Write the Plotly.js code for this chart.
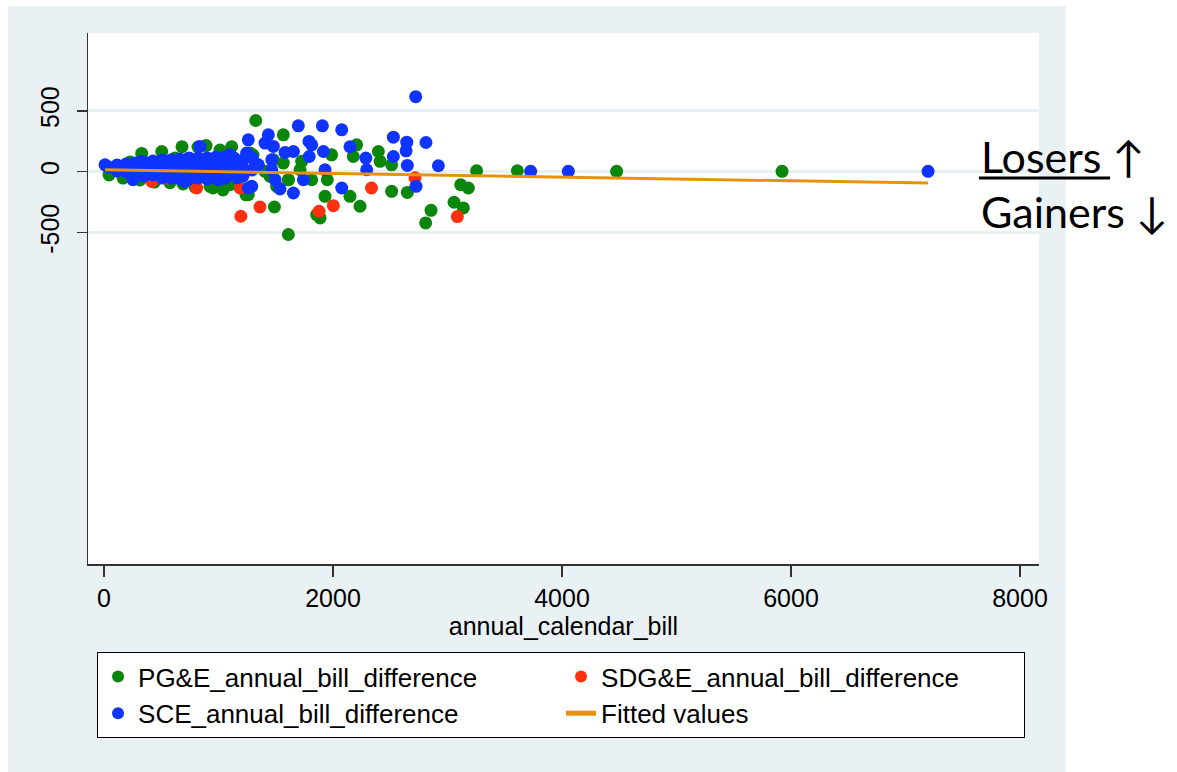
<!DOCTYPE html>
<html>
<head>
<meta charset="utf-8">
<script src="https://cdn.plot.ly/plotly-3.0.1.min.js"></script>
<style>html,body{margin:0;padding:0;background:#fff;}#chart{width:1177px;height:772px;}</style>
</head>
<body>
<div id="chart"></div>
<script>
// ---- data ----
var pgeX = [44,227,329,504,620,681,821,891,1013,1115,1301,166,314,440,576,690,795,926,952,1039,1100,1127,1240,
  1275,1406,1450,1479,1508,1566,1610,1712,1726,1260,
  1325,1566,2206,2396,2177,2411,2512,1988,1814,1950,1610,1488,1930,2148,2236,2512,2649,1857,1887,1610,
  3254,3610,3115,3182,3057,3138,2856,2809,4477,5922];
var pgeY = [-27,80,150,166,112,205,203,215,178,205,137,-52,-68,-85,-90,-101,-126,-120,-134,-150,-107,-93,-190,
  153,3,-38,98,-120,71,-66,16,85,-189,
  421,303,221,166,125,85,57,139,-66,-66,-66,-290,-202,-202,-284,-161,-170,-352,-380,-516,
  8,8,-107,-134,-251,-298,-317,-421,3,3];

var sdgeX = [416,547,809,1188,1195,1362,1878,2003,2336,2716,3086];
var sdgeY = [-80,-52,-134,-134,-366,-290,-325,-279,-134,-50,-369];

var sceX = [35,114,114,192,192,271,271,271,349,349,349,428,428,428,507,507,507,507,585,585,585,585,
  664,664,664,664,742,742,742,742,821,821,821,821,900,900,900,900,978,978,978,978,1057,1057,1057,1057,
  1135,1135,1135,1214,1214,1214,1293,1293,
  2722,1260,1435,1697,1907,2076,2527,2644,2812,2638,2527,2287,2148,1916,1790,1814,1792,1654,1581,1406,1479,
  1246,1348,1465,1465,1930,2294,2649,2920,3726,4055,7197,2725,2076,1741,1494,1537,1654,1290,1188,1246,1203,
  998,882,707,253,9,111,838,1042,1100,1159,1260,329,1163];
var sceY = [39,55,6,63,-2,71,14,-35,80,22,-35,88,30,-27,96,39,-19,-52,96,47,-2,-52,
  104,55,-2,-60,113,55,-2,-60,113,63,6,-52,113,55,-2,-60,121,63,6,-44,121,63,6,-52,
  113,55,-2,96,30,-35,113,14,
  617,262,303,377,377,344,284,243,240,172,125,112,205,166,249,221,125,166,158,235,208,
  139,57,98,16,16,16,52,49,3,3,3,-120,-134,-66,-66,-142,-175,-120,43,153,-38,
  -66,-38,-80,-66,57,30,208,98,139,71,-134,85,-50];

var fitX = [9, 7197];
var fitY = [16, -93];

var xTicks = [0, 2000, 4000, 6000, 8000];
var yTicks = [-500, 0, 500];

var seriesNames = ['PG&E_annual_bill_difference', 'SDG&E_annual_bill_difference',
                   'SCE_annual_bill_difference', 'Fitted values'];

// ---- chart ----
var tickFont = {family: 'Liberation Sans, Arial, sans-serif', size: 25, color: '#000'};
var legendFont = {family: 'Liberation Sans, Arial, sans-serif', size: 26, color: '#000'};

var traces = [
  {type: 'scatter', mode: 'markers', x: pgeX, y: pgeY, name: seriesNames[0],
   marker: {color: '#0a860a', size: 13, line: {width: 0}}},
  {type: 'scatter', mode: 'markers', x: sdgeX, y: sdgeY, name: seriesNames[1],
   marker: {color: '#ff3010', size: 13, line: {width: 0}}},
  {type: 'scatter', mode: 'markers', x: sceX, y: sceY, name: seriesNames[2],
   marker: {color: '#1034ff', size: 13, line: {width: 0}}},
  {type: 'scatter', mode: 'lines', x: fitX, y: fitY, name: seriesNames[3],
   line: {color: '#e8920c', width: 3}}
];

var layout = {
  width: 1177, height: 772,
  margin: {l: 88, r: 138, t: 33, b: 208},
  paper_bgcolor: '#eaf1f4',
  plot_bgcolor: '#ffffff',
  showlegend: true,
  xaxis: {
    range: [-140, 8166], tickvals: xTicks, ticktext: xTicks.map(String),
    ticks: 'outside', ticklen: 11, tickwidth: 1.5, tickcolor: '#333',
    showline: true, linecolor: '#333', linewidth: 1.5,
    showgrid: false, zeroline: false, tickfont: tickFont,
    title: {text: 'annual_calendar_bill', font: tickFont, standoff: 2}
  },
  yaxis: {
    range: [-3224, 1140], tickvals: yTicks, ticktext: yTicks.map(String),
    tickangle: -90, ticks: 'outside', ticklen: 10, tickwidth: 1.5, tickcolor: '#333',
    showline: true, linecolor: '#333', linewidth: 1.5,
    showgrid: true, gridcolor: '#e9f0f3', gridwidth: 3, zeroline: false,
    tickfont: tickFont, ticklabelstandoff: 8
  },
  legend: {
    orientation: 'h', x: 0.0095, xanchor: 'left', y: -0.1657, yanchor: 'top',
    bgcolor: '#ffffff', bordercolor: '#000', borderwidth: 1,
    font: legendFont, entrywidth: 418, entrywidthmode: 'pixels',
    itemsizing: 'constant', traceorder: 'normal'
  },
  shapes: [
    {type: 'rect', xref: 'paper', yref: 'paper', x0: 1.0284, x1: 1.3, y0: -0.5, y1: 1.2,
     fillcolor: '#ffffff', line: {width: 0}, layer: 'below'},
    {type: 'rect', xref: 'paper', yref: 'paper', x0: -0.2, x1: 1.3, y0: 1.0508, y1: 1.2,
     fillcolor: '#ffffff', line: {width: 0}, layer: 'below'},
    {type: 'rect', xref: 'paper', yref: 'paper', x0: -0.2, x1: -0.0841, y0: -0.5, y1: 1.2,
     fillcolor: '#ffffff', line: {width: 0}, layer: 'below'},
    {type: 'line', xref: 'paper', yref: 'paper', x0: 0.9369, x1: 1.0747, y0: 0.7269, y1: 0.7269,
     line: {color: '#000', width: 3}}
  ],
  annotations: [
    {xref: 'paper', yref: 'paper', x: 0.9369, xanchor: 'left', y: (564 - 156) / 531, yanchor: 'middle',
     text: 'Losers \u2191', showarrow: false, font: {family: 'Lato, Open Sans, sans-serif', size: 43, color: '#000'}},
    {xref: 'paper', yref: 'paper', x: 0.9369, xanchor: 'left', y: (564 - 212) / 531, yanchor: 'middle',
     text: 'Gainers \u2193', showarrow: false, font: {family: 'Lato, Open Sans, sans-serif', size: 43, color: '#000'}}
  ]
};

Plotly.newPlot('chart', traces, layout, {displayModeBar: false, staticPlot: true});
</script>
</body>
</html>
